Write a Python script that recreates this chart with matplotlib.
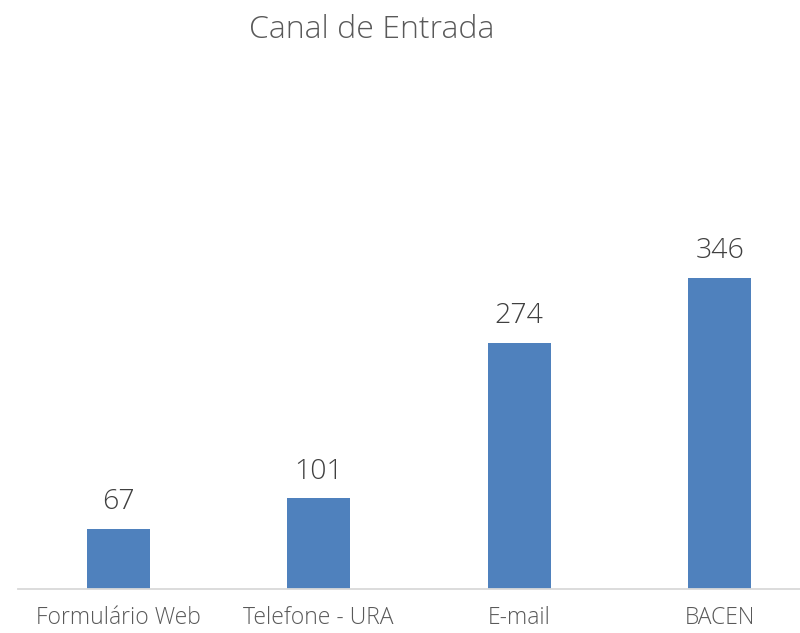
import matplotlib
matplotlib.use("Agg")
import matplotlib.pyplot as plt

categories = ["Formulário Web", "Telefone - URA", "E-mail", "BACEN"]
values = [67, 101, 274, 346]

fam = "Open Sans"
W, H = 800, 633
fig = plt.figure(figsize=(W/100, H/100), dpi=100)

ymax = 400
px_per_unit = (589 - 278) / 346
ax_h = ymax * px_per_unit
ax = fig.add_axes([18/W, (H-589)/H, 802/W, ax_h/H])

x = range(len(categories))
ax.bar(x, values, width=0.314, color="#4f81bd")
ax.set_xlim(-0.5, len(categories) - 0.5)
ax.set_ylim(0, ymax)
for s in ["top", "right", "left"]:
    ax.spines[s].set_visible(False)
ax.spines["bottom"].set_color("#d9d9d9")
ax.spines["bottom"].set_linewidth(1.3)
ax.set_yticks([])
ax.set_xticks(list(x))
ax.set_xticklabels(categories, fontsize=16.5, color="#595959", family=fam, fontweight="light")
ax.tick_params(axis="x", length=0, pad=12)

for xi, v in zip(x, values):
    ax.annotate(str(v), (xi, v), xytext=(0, 9), textcoords="offset points",
                ha="center", va="bottom", fontsize=20.5, color="#404040",
                family=fam, fontweight="light")

fig.text(372/W, 1 - 38/H, "Canal de Entrada", ha="center", va="baseline",
         fontsize=23, color="#595959", family=fam, fontweight="light")

fig.savefig("out.png", dpi=100)
